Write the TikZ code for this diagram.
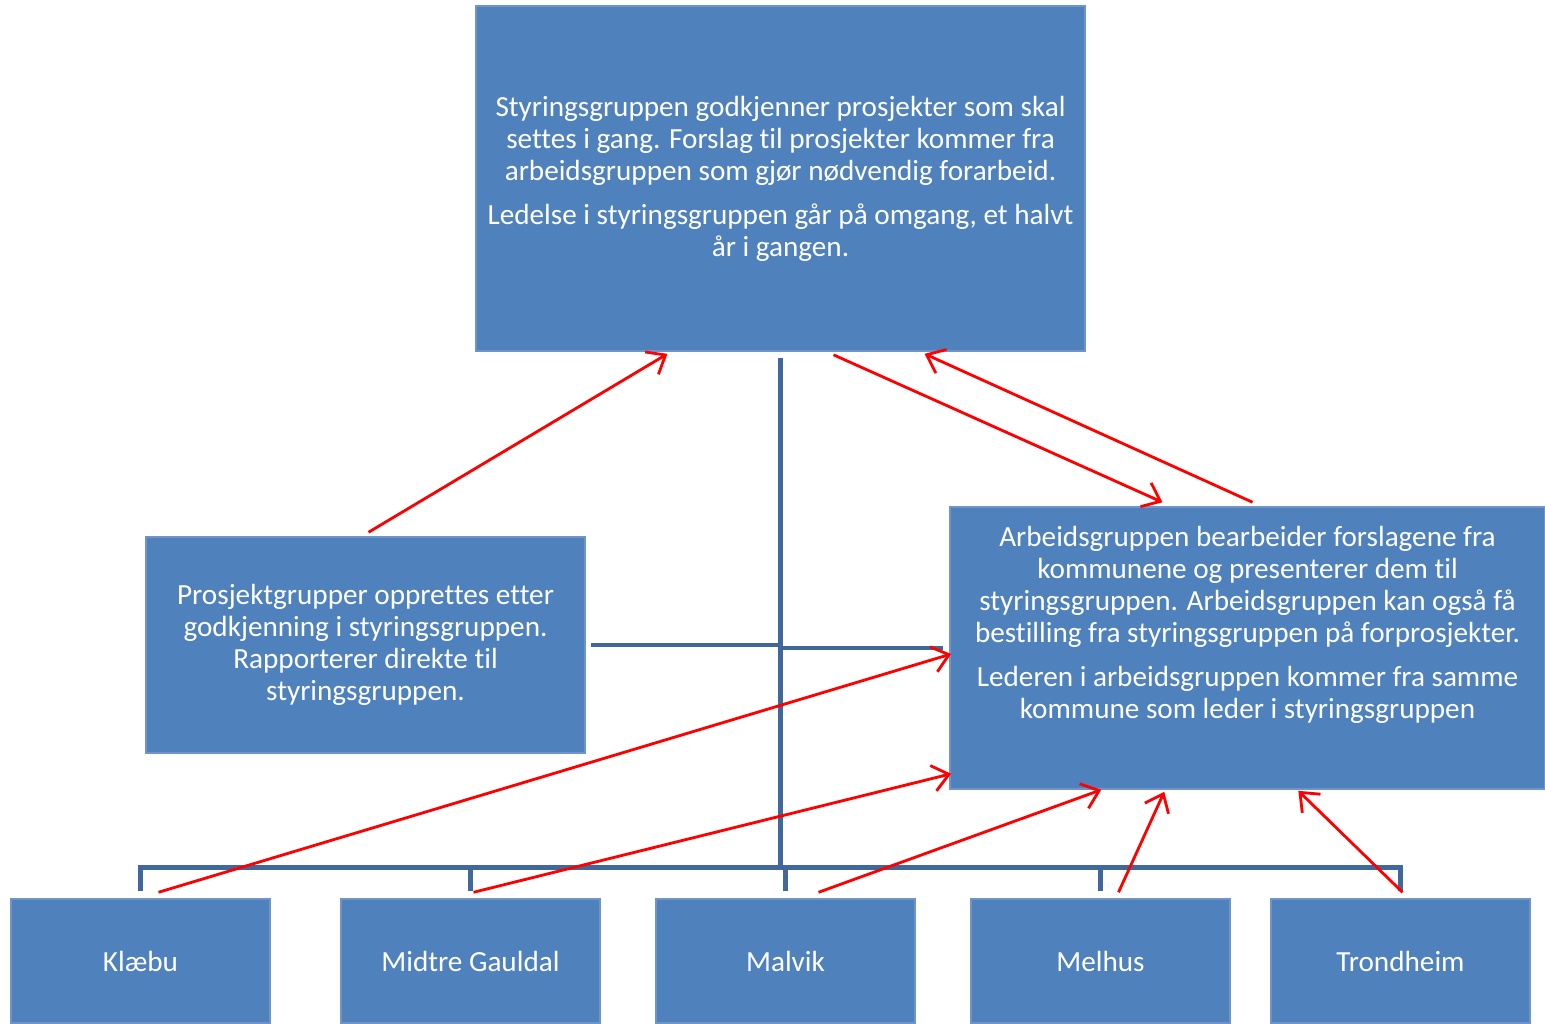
\documentclass[tikz,border=0pt]{standalone}
\usepackage{fontspec}
\setmainfont{Carlito}[Ligatures=NoCommon]
\usepackage{xcolor}
\usepackage{tikz}
\usetikzlibrary{calc,arrows.meta}
\definecolor{boxfill}{HTML}{4F81BD}
\definecolor{boxedge}{HTML}{6F95C8}
\definecolor{trunkc}{HTML}{41689A}
\definecolor{arrowc}{HTML}{FF0000}
\tikzset{
  box/.style={rectangle, fill=boxfill, draw=boxedge, line width=0.4pt, inner sep=0pt},
  txt/.style={text=white, align=center, font=\fontsize{8.3}{9.1}\selectfont, inner sep=0pt},
  trunk/.style={draw=trunkc, line width=1.4pt},
  flow/.style={draw=arrowc, line width=0.8pt, -{Straight Barb[length=1.6mm,width=2.6mm]}},
}

\begin{document}
\begin{tikzpicture}[x=0.01cm, y=-0.01cm]
  \useasboundingbox (0,0) rectangle (1545,1023);
  % boxes
  \node[box, minimum width=6.09cm, minimum height=3.45cm] (styr) at (780.5,178.5) {};
  \node[txt] (styrtxt) at (styr.center) {Styringsgruppen godkjenner prosjekter som skal\\
    settes i gang. Forslag til prosjekter kommer fra\\
    arbeidsgruppen som gjør nødvendig forarbeid.\\[3.4pt]
    Ledelse i styringsgruppen går på omgang, et halvt\\
    år i gangen.};
  \node[box, minimum width=4.39cm, minimum height=2.16cm] (prosj) at (365.5,645) {};
  \node[txt] (prosjtxt) at (prosj.center) {Prosjektgrupper opprettes  etter\\
    godkjenning i styringsgruppen.\\
    Rapporterer direkte til\\
    styringsgruppen.};
  \node[box, minimum width=5.95cm, minimum height=2.82cm] (arb) at (1247.5,648) {};
  \node[txt] (arbtxt) at ([yshift=0.23cm]arb.center) {Arbeidsgruppen bearbeider forslagene  fra\\
    kommunene og presenterer dem til\\
    styringsgruppen. Arbeidsgruppen kan også få\\
    bestilling fra styringsgruppen på  forprosjekter.\\[3.4pt]
    Lederen i arbeidsgruppen  kommer fra samme\\
    kommune som leder i styringsgruppen};
  \foreach \name/\x/\lbl in {klaebu/140.5/Klæbu, midtre/470.5/Midtre Gauldal,
      malvik/785.5/Malvik, melhus/1100.5/Melhus, trondheim/1400.5/Trondheim}{
    \node[box, minimum width=2.59cm, minimum height=1.24cm] (\name) at (\x,961) {};
    \node[txt] at (\name.center) {\lbl};
  }

  % organisation lines
  \coordinate (bus) at ([yshift=0.31cm]klaebu.north);
  \draw[trunk] ([yshift=-0.06cm]styr.south) -- (styr.south |- bus);
  \draw[trunk] ([xshift=0.05cm]prosj.east) -- (prosj.east -| styr.south);
  \draw[trunk] ([xshift=-0.06cm]arb.west) -- (arb.west -| styr.south);
  \draw[trunk] ([yshift=0.07cm]klaebu.north) -- (bus) -- (bus -| trondheim.north)
    -- ([yshift=0.07cm]trondheim.north);
  \foreach \name in {midtre, malvik, melhus}{
    \draw[trunk] ([yshift=0.07cm]\name.north) -- (bus -| \name.north);
  }

  % red arrows
  \draw[flow] ([shift={(0.03cm,0.04cm)}]prosj.north) -- ([shift={(-1.13cm,-0.02cm)}]styr.south);
  \draw[flow] ([shift={(0.53cm,-0.03cm)}]styr.south) -- ([shift={(-0.85cm,0.04cm)}]arb.north);
  \draw[flow] ([shift={(0.05cm,0.04cm)}]arb.north) -- ([shift={(1.44cm,-0.02cm)}]styr.south);
  \draw[flow] ([shift={(0.18cm,0.06cm)}]klaebu.north) -- ([shift={(0.02cm,-0.06cm)}]arb.west);
  \draw[flow] ([shift={(0.03cm,0.06cm)}]midtre.north) -- ([shift={(0.02cm,0.16cm)}]arb.south west);
  \draw[flow] ([shift={(0.33cm,0.06cm)}]malvik.north) -- ([shift={(1.52cm,0cm)}]arb.south west);
  \draw[flow] ([shift={(0.18cm,0.06cm)}]melhus.north) -- ([shift={(2.15cm,-0.02cm)}]arb.south west);
  \draw[flow] ([shift={(0.02cm,0.06cm)}]trondheim.north) -- ([shift={(3.49cm,-0.01cm)}]arb.south west);
\end{tikzpicture}
\end{document}
